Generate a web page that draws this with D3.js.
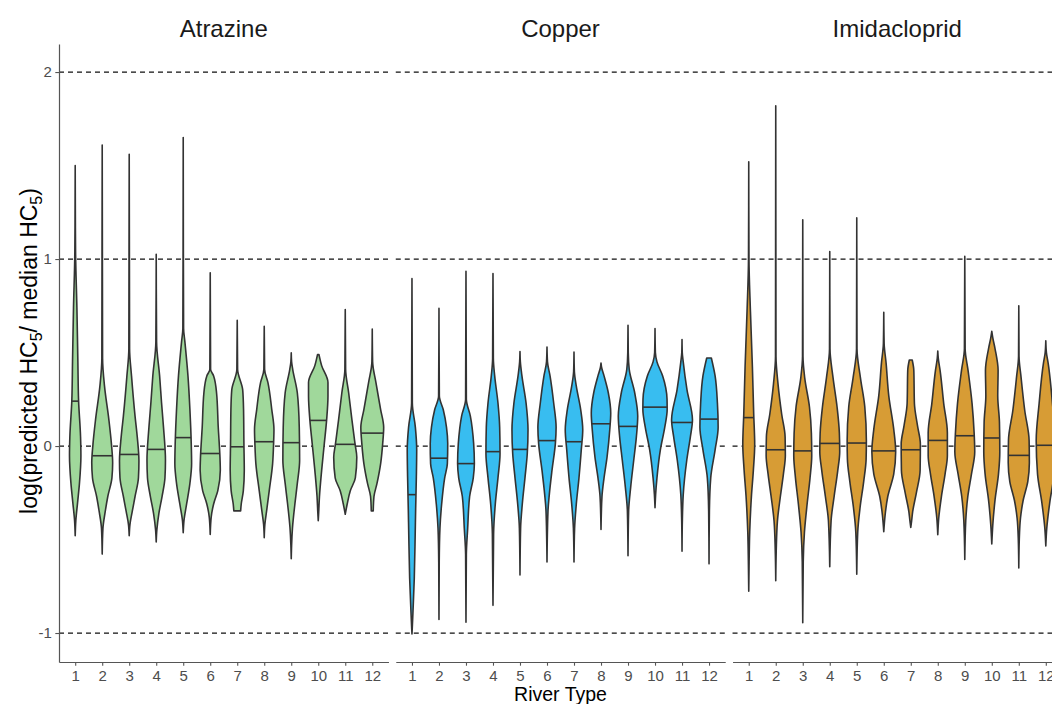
<!DOCTYPE html>
<html>
<head>
<meta charset="utf-8">
<script src="https://cdn.jsdelivr.net/npm/d3@7"></script>
<style>
body { margin: 0; background: #fff; }
svg { display: block; font-family: "Liberation Sans", Arial, sans-serif; }
</style>
</head>
<body>
<svg id="chart" width="1052" height="704"></svg>
<script>
const compounds = ["Atrazine", "Copper", "Imidacloprid"]
const riverTypes = ["1", "2", "3", "4", "5", "6", "7", "8", "9", "10", "11", "12"]
const yTicks = [-1, 0, 1, 2]
const refLines = [-1, 0, 1, 2]
const fills = ["#a0d89b", "#38bdf0", "#d79c35"]

// medians per river type
const atrazineMedians = [0.24, -0.052, -0.045, -0.018, 0.045, -0.04, -0.004, 0.023, 0.018, 0.137, 0.009, 0.069]
const copperMedians = [-0.26, -0.065, -0.094, -0.03, -0.018, 0.029, 0.023, 0.119, 0.105, 0.208, 0.126, 0.144]
const imidaclopridMedians = [0.152, -0.02, -0.026, 0.014, 0.016, -0.026, -0.02, 0.03, 0.055, 0.043, -0.05, 0.004]

// violin outlines: [value, relative density], bottom to top
const atrazineViolins = [
  [[-0.48,0],[-0.4,0.05],[-0.3,0.2],[-0.2,0.35],[-0.05,0.47],[0.05,0.44],[0.24,0.28],[0.45,0.22],[0.74,0.14],[1.04,0.03],[1.5,0]],
  [[-0.578,0],[-0.44,0.06],[-0.35,0.25],[-0.27,0.46],[-0.17,0.8],[-0.09,0.86],[0.01,0.76],[0.14,0.55],[0.32,0.19],[0.47,0.03],[1.61,0]],
  [[-0.48,0],[-0.42,0.06],[-0.35,0.25],[-0.27,0.48],[-0.17,0.76],[-0.08,0.8],[0.05,0.66],[0.16,0.48],[0.375,0.19],[0.52,0.03],[1.56,0]],
  [[-0.513,0],[-0.45,0.05],[-0.36,0.22],[-0.27,0.48],[-0.17,0.72],[-0.076,0.76],[0.1,0.6],[0.23,0.44],[0.375,0.28],[0.556,0.03],[1.025,0]],
  [[-0.464,0],[-0.4,0.06],[-0.31,0.28],[-0.2,0.55],[-0.094,0.69],[0.014,0.66],[0.195,0.55],[0.375,0.39],[0.556,0.14],[0.63,0.03],[1.65,0]],
  [[-0.473,0],[-0.38,0.08],[-0.31,0.28],[-0.24,0.62],[-0.13,0.83],[-0.058,0.8],[0.1,0.66],[0.285,0.52],[0.375,0.28],[0.41,0.03],[0.926,0]],
  [[-0.347,0.28],[-0.31,0.33],[-0.24,0.5],[-0.13,0.58],[0.014,0.55],[0.195,0.52],[0.3,0.45],[0.41,0.03],[0.673,0]],
  [[-0.49,0],[-0.42,0.05],[-0.35,0.19],[-0.24,0.41],[-0.094,0.69],[0.014,0.77],[0.087,0.8],[0.195,0.62],[0.34,0.3],[0.41,0.03],[0.64,0]],
  [[-0.603,0],[-0.53,0.03],[-0.44,0.1],[-0.31,0.3],[-0.2,0.5],[-0.076,0.69],[0.1,0.66],[0.285,0.5],[0.41,0.12],[0.45,0.03],[0.498,0]],
  [[-0.4,0],[-0.35,0.04],[-0.27,0.1],[-0.13,0.28],[0.014,0.5],[0.14,0.69],[0.267,0.8],[0.34,0.8],[0.43,0.28],[0.489,0.06]],
  [[-0.365,0],[-0.31,0.16],[-0.24,0.41],[-0.17,0.83],[-0.06,0.95],[0.014,0.8],[0.14,0.55],[0.285,0.28],[0.41,0.03],[0.73,0]],
  [[-0.347,0.08],[-0.27,0.14],[-0.2,0.39],[-0.094,0.69],[0.014,0.86],[0.1,0.94],[0.195,0.69],[0.34,0.3],[0.45,0.03],[0.625,0]]
]
const copperViolins = [
  [[-1.005,0],[-0.98,0.02],[-0.89,0.08],[-0.708,0.19],[-0.527,0.25],[-0.347,0.3],[-0.166,0.36],[-0.02,0.39],[0.1,0.28],[0.23,0.03],[0.895,0]],
  [[-0.928,0],[-0.62,0.02],[-0.44,0.08],[-0.31,0.22],[-0.17,0.47],[-0.094,0.69],[0.014,0.72],[0.1,0.62],[0.195,0.35],[0.267,0.03],[0.736,0]],
  [[-0.942,0],[-0.58,0.03],[-0.44,0.14],[-0.27,0.3],[-0.17,0.6],[-0.094,0.69],[0.014,0.63],[0.16,0.36],[0.25,0.03],[0.935,0]],
  [[-0.852,0],[-0.47,0.05],[-0.31,0.19],[-0.17,0.41],[-0.04,0.58],[0.1,0.55],[0.23,0.41],[0.375,0.14],[0.47,0.03],[0.922,0]],
  [[-0.69,0],[-0.44,0.05],[-0.31,0.19],[-0.17,0.41],[-0.04,0.6],[0.087,0.66],[0.23,0.5],[0.375,0.16],[0.45,0.03],[0.505,0]],
  [[-0.62,0],[-0.35,0.08],[-0.26,0.19],[-0.13,0.41],[0.014,0.69],[0.1,0.75],[0.23,0.55],[0.375,0.25],[0.45,0.04],[0.529,0]],
  [[-0.62,0],[-0.44,0.05],[-0.31,0.19],[-0.17,0.41],[-0.02,0.6],[0.087,0.72],[0.195,0.55],[0.32,0.19],[0.4,0.03],[0.502,0]],
  [[-0.446,0],[-0.27,0.08],[-0.17,0.25],[-0.058,0.5],[0.087,0.72],[0.177,0.8],[0.285,0.6],[0.375,0.25],[0.42,0.05],[0.444,0]],
  [[-0.587,0],[-0.35,0.05],[-0.22,0.22],[-0.076,0.47],[0.05,0.69],[0.16,0.8],[0.285,0.55],[0.41,0.1],[0.5,0.02],[0.646,0]],
  [[-0.33,0],[-0.26,0.05],[-0.17,0.16],[-0.02,0.44],[0.1,0.8],[0.195,1.0],[0.25,0.99],[0.375,0.63],[0.45,0.16],[0.5,0.03],[0.628,0]],
  [[-0.563,0],[-0.39,0.03],[-0.26,0.1],[-0.076,0.39],[0.05,0.69],[0.14,0.86],[0.3,0.41],[0.45,0.1],[0.5,0.02],[0.569,0]],
  [[-0.63,0],[-0.35,0.03],[-0.17,0.14],[-0.02,0.5],[0.1,0.75],[0.23,0.69],[0.375,0.5],[0.471,0.19]]
]
const imidaclopridViolins = [
  [[-0.777,0],[-0.62,0.03],[-0.46,0.08],[-0.27,0.22],[-0.13,0.38],[0.01,0.49],[0.168,0.41],[0.425,0.3],[0.72,0.14],[1.0,0.02],[1.52,0]],
  [[-0.72,0],[-0.56,0.04],[-0.4,0.14],[-0.27,0.38],[-0.15,0.63],[-0.05,0.79],[0.05,0.77],[0.17,0.49],[0.33,0.19],[0.48,0.02],[1.82,0]],
  [[-0.945,0],[-0.62,0.04],[-0.46,0.14],[-0.31,0.36],[-0.17,0.6],[-0.05,0.74],[0.07,0.71],[0.21,0.55],[0.366,0.16],[0.48,0.02],[1.21,0]],
  [[-0.646,0],[-0.4,0.11],[-0.27,0.36],[-0.13,0.66],[-0.03,0.82],[0.07,0.79],[0.21,0.6],[0.366,0.27],[0.52,0.02],[1.04,0]],
  [[-0.686,0],[-0.46,0.08],[-0.33,0.27],[-0.19,0.57],[-0.07,0.77],[0.03,0.79],[0.21,0.66],[0.366,0.3],[0.52,0.02],[1.22,0]],
  [[-0.458,0],[-0.37,0.11],[-0.27,0.33],[-0.15,0.82],[-0.03,0.98],[0.09,0.82],[0.27,0.41],[0.445,0.19],[0.55,0.03],[0.715,0]],
  [[-0.435,0],[-0.4,0.07],[-0.35,0.16],[-0.25,0.46],[-0.13,0.77],[0.01,0.79],[0.11,0.55],[0.227,0.3],[0.405,0.25],[0.46,0.12]],
  [[-0.474,0],[-0.385,0.08],[-0.27,0.3],[-0.15,0.6],[-0.05,0.79],[0.07,0.79],[0.227,0.49],[0.405,0.19],[0.47,0.04],[0.508,0]],
  [[-0.607,0],[-0.4,0.08],[-0.27,0.25],[-0.15,0.55],[-0.03,0.82],[0.07,0.77],[0.227,0.6],[0.405,0.27],[0.52,0.03],[1.014,0]],
  [[-0.524,0],[-0.425,0.08],[-0.287,0.27],[-0.15,0.55],[-0.03,0.66],[0.128,0.63],[0.267,0.49],[0.405,0.52],[0.52,0.27],[0.58,0.08],[0.613,0]],
  [[-0.652,0],[-0.5,0.04],[-0.385,0.14],[-0.29,0.36],[-0.19,0.74],[-0.09,0.87],[0.03,0.85],[0.19,0.49],[0.366,0.19],[0.48,0.02],[0.75,0]],
  [[-0.534,0],[-0.44,0.08],[-0.3,0.33],[-0.15,0.68],[0.03,0.79],[0.227,0.55],[0.445,0.19],[0.5,0.05],[0.563,0]]
]

const medians = [atrazineMedians, copperMedians, imidaclopridMedians]
const violins = [atrazineViolins, copperViolins, imidaclopridViolins]

const svg = d3.select("#chart")
const axisColor = "#555"
const outline = "#333"

const y = d3.scaleLinear().domain([-1.155, 2.15]).range([662, 44])
const panel = d3.scaleBand().domain(compounds).range([59, 1062]).paddingInner(0.0217)
const x = d3.scalePoint().domain(riverTypes).range([0, panel.bandwidth()]).padding(0.6)
const w = d3.scaleLinear().domain([0, 1]).range([0, x.step() * 0.45])

const area = d3.area()
  .curve(d3.curveMonotoneY)
  .y(p => y(p[0]))
  .x0(p => -w(p[1]))
  .x1(p => w(p[1]))

// density at the median, from the outline
function widthAt(prof, v) {
  for (let k = 1; k < prof.length; k++) {
    if (v <= prof[k][0]) {
      const a = prof[k - 1], b = prof[k]
      const t = (v - a[0]) / (b[0] - a[0])
      return a[1] + t * (b[1] - a[1])
    }
  }
  return prof[prof.length - 1][1]
}

compounds.forEach((c, i) => {
  const g = svg.append("g").attr("transform", `translate(${panel(c)},0)`)

  g.selectAll("line.ref")
    .data(refLines)
    .enter().append("line")
    .attr("class", "ref")
    .attr("x1", 0).attr("x2", panel.bandwidth())
    .attr("y1", d => y(d)).attr("y2", d => y(d))
    .attr("stroke", "#111")
    .attr("stroke-width", 1.25)
    .attr("stroke-dasharray", "5,4")

  const data = riverTypes.map((rt, j) => ({ rt, prof: violins[i][j], med: medians[i][j] }))

  const v = g.selectAll("g.violin")
    .data(data)
    .enter().append("g")
    .attr("class", "violin")
    .attr("transform", d => `translate(${x(d.rt)},0)`)

  v.append("path")
    .attr("d", d => area(d.prof))
    .attr("fill", fills[i])
    .attr("stroke", outline)
    .attr("stroke-width", 1.6)
    .attr("stroke-linejoin", "round")

  v.append("line")
    .attr("x1", d => -w(widthAt(d.prof, d.med)))
    .attr("x2", d => w(widthAt(d.prof, d.med)))
    .attr("y1", d => y(d.med)).attr("y2", d => y(d.med))
    .attr("stroke", outline)
    .attr("stroke-width", 1.6)

  const xa = g.append("g")
    .attr("transform", "translate(0,662)")
    .call(d3.axisBottom(x).tickSize(3.7).tickSizeOuter(0).tickPadding(4.5))
  xa.select(".domain").attr("stroke", axisColor).attr("stroke-width", 1.2)
  xa.selectAll(".tick line").attr("stroke", axisColor).attr("stroke-width", 1.1)
  xa.selectAll(".tick text").attr("fill", "#4d4d4d").attr("font-size", 15)
    .attr("font-family", "Liberation Sans, Arial, sans-serif")

  svg.append("text")
    .attr("x", panel(c) + panel.bandwidth() / 2)
    .attr("y", 37)
    .attr("text-anchor", "middle")
    .attr("font-size", 24)
    .attr("fill", "#1a1a1a")
    .text(c)
})

const ya = svg.append("g")
  .attr("transform", "translate(59,0)")
  .call(d3.axisLeft(y).tickValues(yTicks).tickFormat(d => String(d)).tickSize(3.7).tickSizeOuter(0).tickPadding(3.5))
ya.select(".domain").attr("stroke", axisColor).attr("stroke-width", 1.2)
ya.selectAll(".tick line").attr("stroke", axisColor).attr("stroke-width", 1.1)
ya.selectAll(".tick text").attr("fill", "#4d4d4d").attr("font-size", 15)
  .attr("font-family", "Liberation Sans, Arial, sans-serif")

svg.append("text")
  .attr("x", (59 + 1062) / 2)
  .attr("y", 701)
  .attr("text-anchor", "middle")
  .attr("font-size", 19.5)
  .attr("fill", "#000")
  .text("River Type")

const yt = svg.append("text")
  .attr("transform", "translate(37,351) rotate(-90)")
  .attr("text-anchor", "middle")
  .attr("font-size", 23)
  .attr("fill", "#000")
yt.append("tspan").text("log(predicted HC")
yt.append("tspan").attr("font-size", 16).attr("dy", 5).text("5")
yt.append("tspan").attr("dy", -5).text("/ median HC")
yt.append("tspan").attr("font-size", 16).attr("dy", 5).text("5")
yt.append("tspan").attr("dy", -5).text(")")
</script>
</body>
</html>
